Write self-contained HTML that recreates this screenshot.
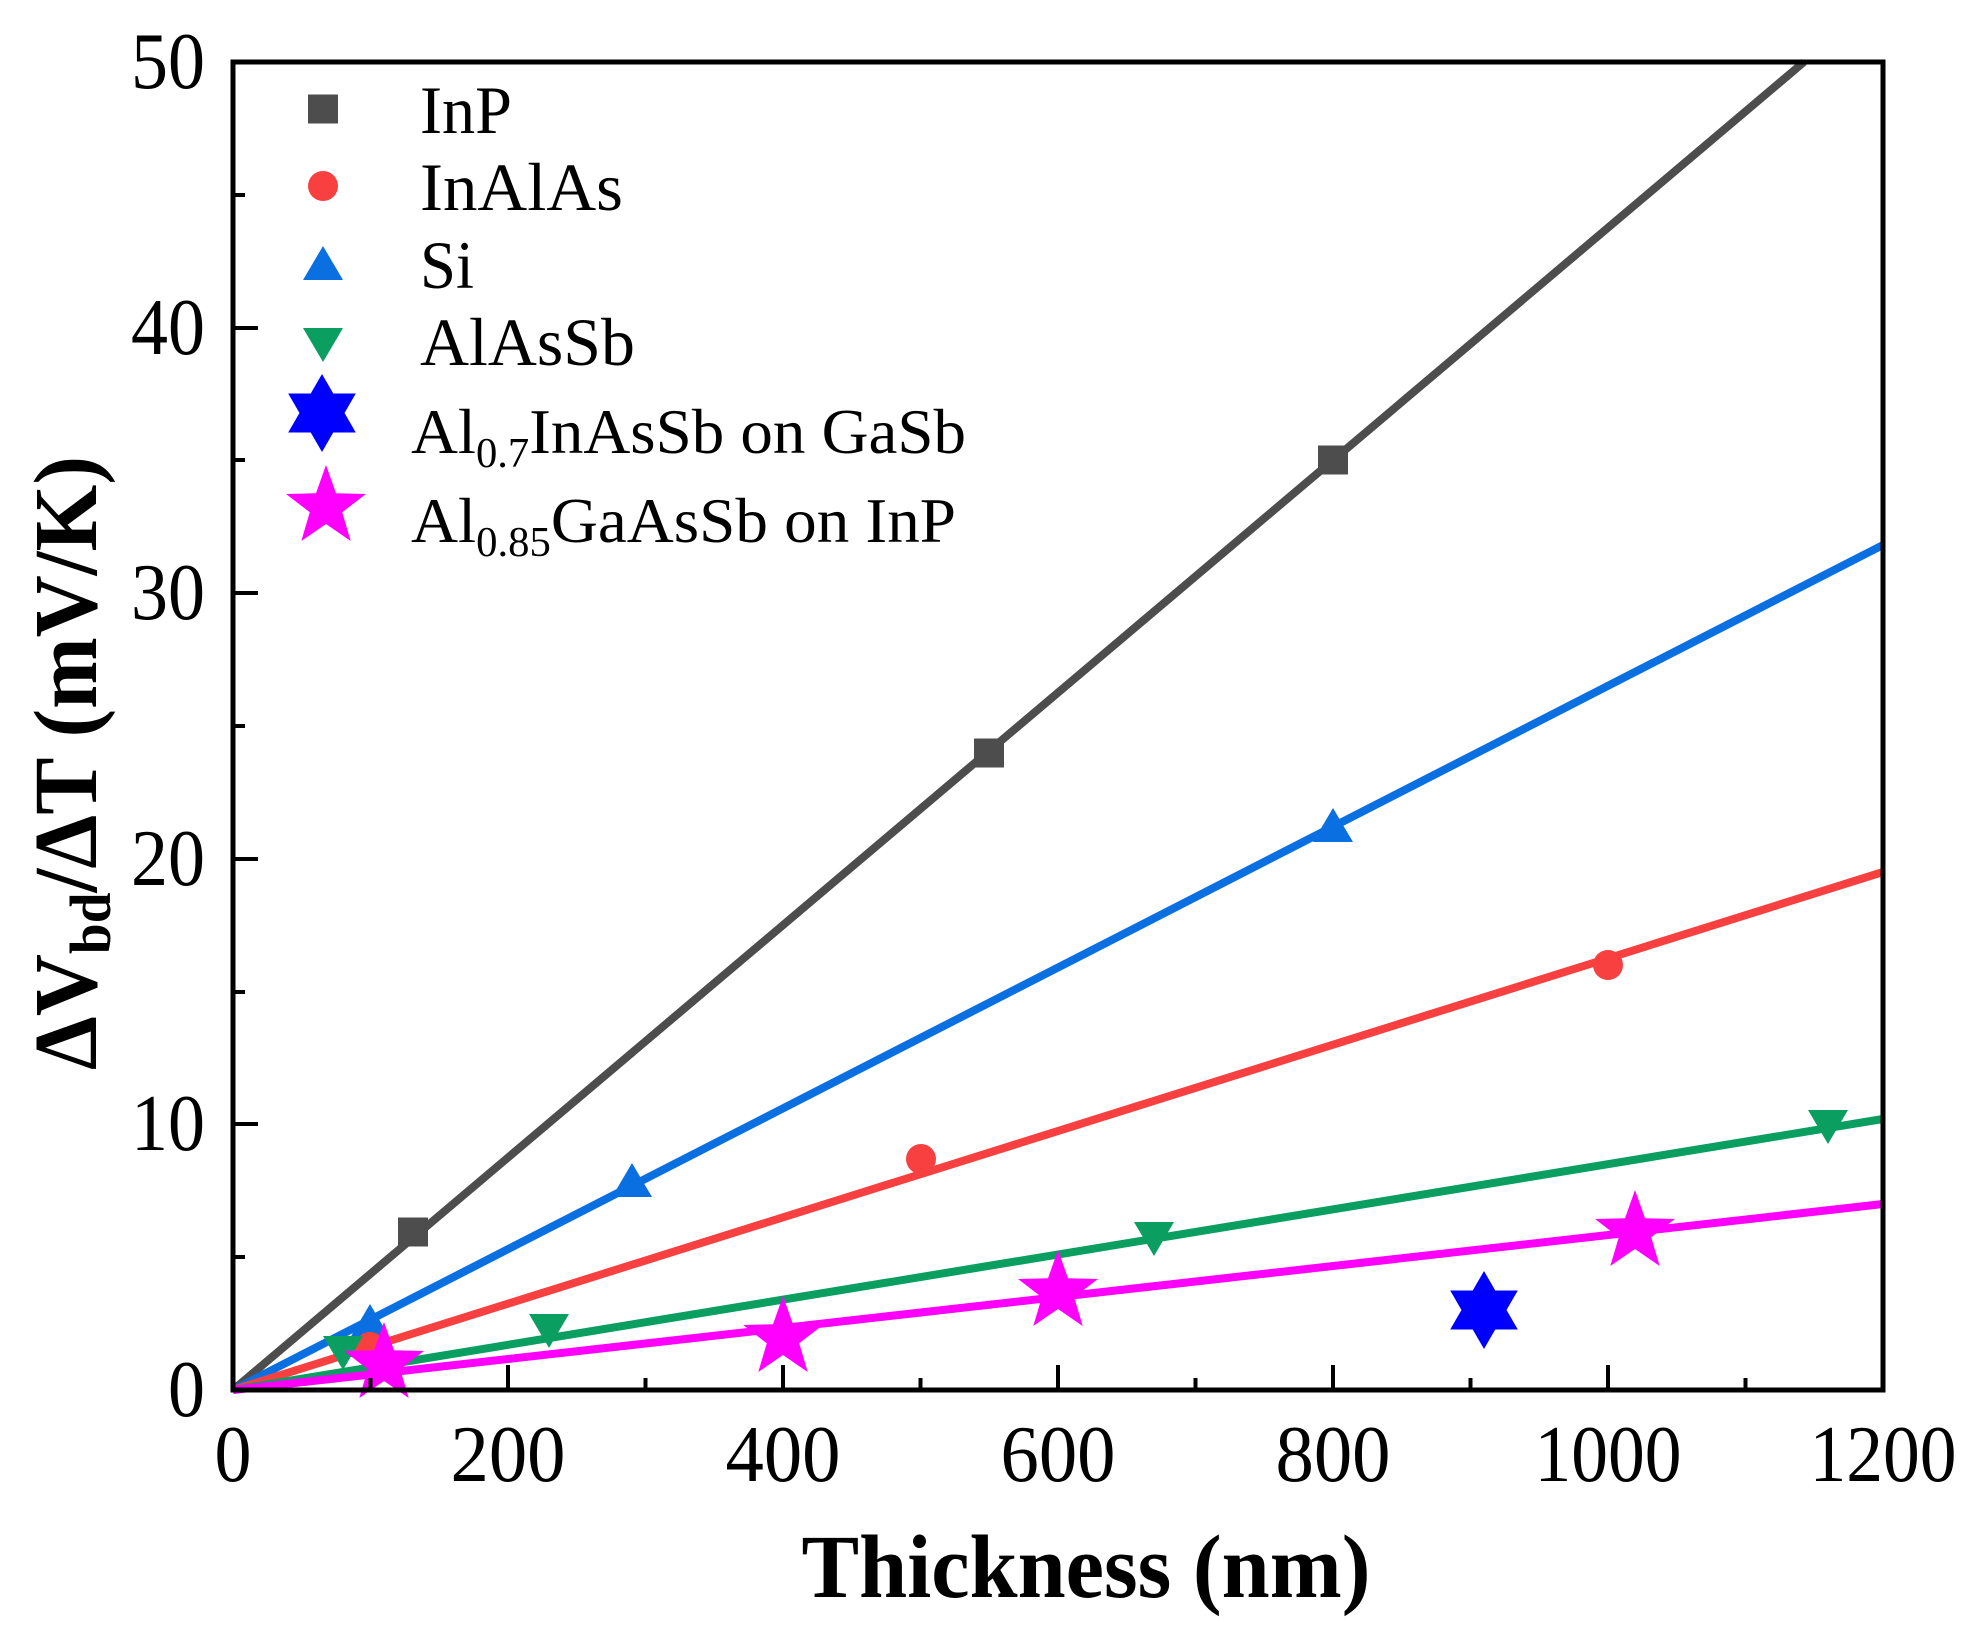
<!DOCTYPE html>
<html><head><meta charset="utf-8"><style>
html,body{margin:0;padding:0;background:#fff;}
svg{display:block;}
text{font-family:"Liberation Serif",serif;fill:#000;}
</style></head><body>
<svg width="1976" height="1630" viewBox="0 0 1976 1630" xmlns="http://www.w3.org/2000/svg">
<defs>
<polygon id="pstar" points="0,-42 10,-13.8 39.9,-13 16.2,5.3 24.7,34 0,17 -24.7,34 -16.2,5.3 -39.9,-13 -10,-13.8" fill="#ff00ff"/>
<g id="dstar" fill="#0000ff"><polygon points="0,-39 33.8,19.5 -33.8,19.5"/><polygon points="0,39 33.8,-19.5 -33.8,-19.5"/></g>
<rect id="sq" x="-15" y="-14.5" width="30" height="29" fill="#4d4d4d"/>
<circle id="ci" r="15" fill="#f84040"/>
<polygon id="tu" points="0,-18 20,16 -20,16" fill="#0a6fe0"/>
<polygon id="td" points="0,18 20,-16 -20,-16" fill="#0a9e60"/>
</defs>
<g stroke-width="8" fill="none">
<line x1="233" y1="1390" x2="1804" y2="62" stroke="#4d4d4d"/>
<line x1="233" y1="1390" x2="1883" y2="545" stroke="#0a6fe0"/>
<line x1="233" y1="1390" x2="1883" y2="872" stroke="#f84040"/>
<line x1="233" y1="1390" x2="1883" y2="1119" stroke="#0a9e60"/>
<line x1="233" y1="1390" x2="1883" y2="1204" stroke="#ff00ff"/>
</g>
<use href="#sq" x="413" y="1232"/><use href="#sq" x="989" y="753"/><use href="#sq" x="1333" y="460"/>
<use href="#tu" x="370" y="1322"/><use href="#tu" x="632" y="1181"/><use href="#tu" x="1333" y="826"/>
<use href="#ci" x="370" y="1347"/><use href="#ci" x="921" y="1159"/><use href="#ci" x="1608" y="965"/>
<use href="#td" x="343" y="1352"/><use href="#td" x="549" y="1330"/><use href="#td" x="1154" y="1238"/><use href="#td" x="1828" y="1126"/>
<use href="#pstar" x="384" y="1364"/><use href="#pstar" x="783" y="1338"/><use href="#pstar" x="1058" y="1292"/><use href="#pstar" x="1635" y="1232"/>
<use href="#dstar" x="1484" y="1310"/>
<rect x="233" y="62" width="1650" height="1328" fill="none" stroke="#000" stroke-width="5"/>
<g stroke="#000" stroke-width="4">
<line x1="233" y1="62" x2="258" y2="62"/>
<line x1="233" y1="195" x2="245" y2="195"/>
<line x1="233" y1="328" x2="258" y2="328"/>
<line x1="233" y1="460" x2="245" y2="460"/>
<line x1="233" y1="593" x2="258" y2="593"/>
<line x1="233" y1="726" x2="245" y2="726"/>
<line x1="233" y1="859" x2="258" y2="859"/>
<line x1="233" y1="992" x2="245" y2="992"/>
<line x1="233" y1="1124" x2="258" y2="1124"/>
<line x1="233" y1="1257" x2="245" y2="1257"/>
<line x1="370.5" y1="1390" x2="370.5" y2="1378"/>
<line x1="508" y1="1390" x2="508" y2="1365"/>
<line x1="645.5" y1="1390" x2="645.5" y2="1378"/>
<line x1="783" y1="1390" x2="783" y2="1365"/>
<line x1="920.5" y1="1390" x2="920.5" y2="1378"/>
<line x1="1058" y1="1390" x2="1058" y2="1365"/>
<line x1="1195.5" y1="1390" x2="1195.5" y2="1378"/>
<line x1="1333" y1="1390" x2="1333" y2="1365"/>
<line x1="1470.5" y1="1390" x2="1470.5" y2="1378"/>
<line x1="1608" y1="1390" x2="1608" y2="1365"/>
<line x1="1745.5" y1="1390" x2="1745.5" y2="1378"/>
</g>
<g font-size="80" text-anchor="end" lengthAdjust="spacingAndGlyphs">
<text x="205" y="88" textLength="74" lengthAdjust="spacingAndGlyphs">50</text>
<text x="205" y="354" textLength="74" lengthAdjust="spacingAndGlyphs">40</text>
<text x="205" y="619" textLength="74" lengthAdjust="spacingAndGlyphs">30</text>
<text x="205" y="885" textLength="74" lengthAdjust="spacingAndGlyphs">20</text>
<text x="205" y="1150" textLength="74" lengthAdjust="spacingAndGlyphs">10</text>
<text x="205" y="1416" textLength="37" lengthAdjust="spacingAndGlyphs">0</text>
</g>
<g font-size="80" text-anchor="middle">
<text x="233" y="1481" textLength="37" lengthAdjust="spacingAndGlyphs">0</text>
<text x="508" y="1481" textLength="115" lengthAdjust="spacingAndGlyphs">200</text>
<text x="783" y="1481" textLength="115" lengthAdjust="spacingAndGlyphs">400</text>
<text x="1058" y="1481" textLength="115" lengthAdjust="spacingAndGlyphs">600</text>
<text x="1333" y="1481" textLength="115" lengthAdjust="spacingAndGlyphs">800</text>
<text x="1608" y="1481" textLength="147" lengthAdjust="spacingAndGlyphs">1000</text>
<text x="1883" y="1481" textLength="147" lengthAdjust="spacingAndGlyphs">1200</text>
</g>
<text x="1086" y="1597" font-size="90" font-weight="bold" text-anchor="middle" textLength="569" lengthAdjust="spacingAndGlyphs">Thickness (nm)</text>
<text transform="translate(96,763) rotate(-90)" font-size="90" font-weight="bold" text-anchor="middle" textLength="614" lengthAdjust="spacingAndGlyphs">ΔV<tspan font-size="58" dy="14">bd</tspan><tspan dy="-14">/ΔT (mV/K)</tspan></text>
<use href="#sq" x="323" y="109"/>
<use href="#ci" x="323" y="186"/>
<use href="#tu" x="323" y="264"/>
<use href="#td" x="323" y="344"/>
<use href="#dstar" x="322" y="413"/>
<use href="#pstar" x="326" y="507"/>
<g font-size="68">
<text x="420" y="133" textLength="92" lengthAdjust="spacingAndGlyphs">InP</text>
<text x="420" y="210" textLength="203" lengthAdjust="spacingAndGlyphs">InAlAs</text>
<text x="420" y="288" textLength="54" lengthAdjust="spacingAndGlyphs">Si</text>
<text x="420" y="365" textLength="215" lengthAdjust="spacingAndGlyphs">AlAsSb</text>
</g>
<g font-size="64">
<text x="411" y="453" textLength="555" lengthAdjust="spacingAndGlyphs">Al<tspan font-size="42" dy="14">0.7</tspan><tspan dy="-14">InAsSb on GaSb</tspan></text>
<text x="411" y="542" textLength="545" lengthAdjust="spacingAndGlyphs">Al<tspan font-size="42" dy="14">0.85</tspan><tspan dy="-14">GaAsSb on InP</tspan></text>
</g>
</svg>
</body></html>
